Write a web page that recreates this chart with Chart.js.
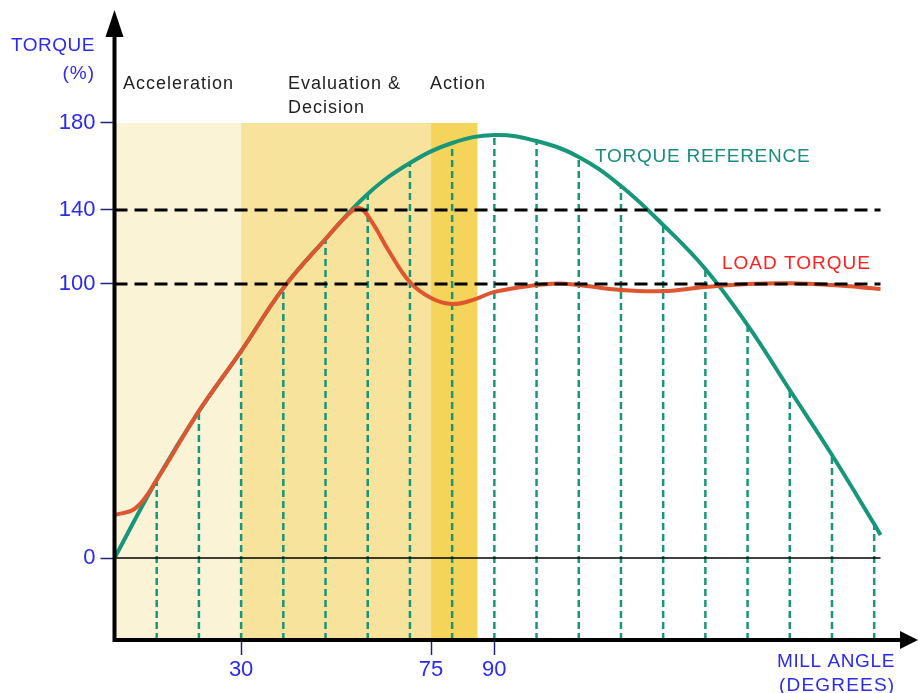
<!DOCTYPE html>
<html>
<head>
<meta charset="utf-8">
<title>Torque vs mill angle</title>
<script src="https://cdn.jsdelivr.net/npm/chart.js@4.4.1/dist/chart.umd.min.js"></script>
<style>
  html, body { margin: 0; padding: 0; background: #fff; }
  #wrap { width: 918px; height: 693px; position: relative; }
</style>
</head>
<body>
<div id="wrap"><canvas id="chart"></canvas></div>
<script>
// Mill angle (degrees) against torque (%)
const refAngles = [0, 10, 20, 30, 40, 50, 60, 70, 80, 90, 100, 110, 120, 130, 140, 150, 160, 170, 180, 181.5];
const refTorque = [0, 28.5, 53.6, 75.5, 98.5, 124.3, 147.4, 161.6, 170.8, 174.5, 171.7, 164.4, 151.0, 131.9, 108.1, 85.0, 61.3, 37.6, 12.4, 8.4];

const loadAngles = [0, 5, 10, 20, 30, 40, 50, 55, 58, 61, 65, 70, 75, 80, 85, 90, 100, 105,
                    110, 120, 130, 140, 150, 160, 170, 181.5];
const loadTorque = [15.7, 18.2, 28.5, 53.6, 75.5, 98.5, 124.3, 136.8, 140.9, 133.5, 117.8, 101, 94.9, 92.7, 94.2, 97.1, 99.6, 100.3,
                    99.6, 97.8, 97.4, 98.9, 100, 100.4, 99.6, 98.2];

const gridAngles = [10, 20, 30, 40, 50, 60, 70, 80, 90, 100, 110, 120, 130, 140, 150, 160, 170, 180];
const limitLevels = [140, 100];
const lineEnd = 181.5;

const yTicks = [0, 100, 140, 180];
const xTicks = [30, 75, 90];

const phaseNames = [['Acceleration'], ['Evaluation &', 'Decision'], ['Action']];
const phaseStart = [0, 30, 75];
const phaseEnd = [30, 75, 86];

// colours
const refColor = '#17967a';
const loadColor = '#de5530';
const phaseColors = ['#fbf3d5', '#f7e39b', '#f5d45b'];
const blue = '#2b2bee';

// The drawing's torque axis is not evenly spaced, so the y scale maps
// value ranges piecewise onto fractions of the axis height.
const yMin = -29.9, yMax = 225.1;
const yKnotValues = [yMin, 0, 100, 140, 180, yMax];
const yKnotFractions = [0, 0.1333, 0.5789, 0.6992, 0.8407, 1];

class PiecewiseScale extends Chart.LinearScale {
    static id = 'piecewise';

    toDecimal(v) {
        let i = 0;
        while (i < yKnotValues.length - 2 && v > yKnotValues[i + 1]) i++;
        const t = (v - yKnotValues[i]) / (yKnotValues[i + 1] - yKnotValues[i]);
        return yKnotFractions[i] + t * (yKnotFractions[i + 1] - yKnotFractions[i]);
    }

    getPixelForValue(value) {
        if (value === null || value === undefined || isNaN(value)) return NaN;
        return this.getPixelForDecimal(this.toDecimal(value));
    }

    getValueForPixel(pixel) {
        const d = this.getDecimalForPixel(pixel);
        let i = 0;
        while (i < yKnotFractions.length - 2 && d > yKnotFractions[i + 1]) i++;
        const t = (d - yKnotFractions[i]) / (yKnotFractions[i + 1] - yKnotFractions[i]);
        return yKnotValues[i] + t * (yKnotValues[i + 1] - yKnotValues[i]);
    }
}
Chart.register(PiecewiseScale);

// dashed drops from the x axis up to the torque reference curve
const dropPoints = [];
gridAngles.forEach(a => {
    dropPoints.push({ x: a, y: yMin });
    dropPoints.push({ x: a, y: refTorque[refAngles.indexOf(a)] });
    dropPoints.push({ x: a, y: null });
});

const datasets = [
    {
        label: 'limits',
        data: limitLevels.flatMap(v => [{ x: 0, y: v }, { x: lineEnd, y: v }, { x: lineEnd, y: null }]),
        borderColor: '#000', borderWidth: 3, borderDash: [13, 7], tension: 0, order: 0
    },
    {
        label: 'Load torque',
        data: loadAngles.map((a, i) => ({ x: a, y: loadTorque[i] })),
        borderColor: loadColor, borderWidth: 4, tension: 0.4, order: 1
    },
    {
        label: 'Torque reference',
        data: refAngles.map((a, i) => ({ x: a, y: refTorque[i] })),
        borderColor: refColor, borderWidth: 4, tension: 0.4, order: 2
    },
    {
        label: 'zero',
        data: [{ x: 0, y: 0 }, { x: lineEnd, y: 0 }],
        borderColor: '#000', borderWidth: 1.5, tension: 0, order: 3
    },
    {
        label: 'drops',
        data: dropPoints,
        borderColor: refColor, borderWidth: 2.5, borderDash: [7, 4], tension: 0, order: 4
    }
];

function drawText(ctx, text, x, y, font, color, align, spacing) {
    ctx.font = font;
    ctx.fillStyle = color;
    ctx.textAlign = align;
    ctx.textBaseline = 'alphabetic';
    ctx.letterSpacing = spacing + 'px';
    ctx.fillText(text, x, y);
    ctx.letterSpacing = '0px';
}

const decorPlugin = {
    id: 'decor',
    beforeDatasetsDraw(chart) {
        const { ctx, chartArea, scales: { x, y } } = chart;
        const top = y.getPixelForValue(Math.max(...yTicks));
        ctx.save();
        phaseStart.forEach((s, i) => {
            const x0 = x.getPixelForValue(s), x1 = x.getPixelForValue(phaseEnd[i]);
            ctx.fillStyle = phaseColors[i];
            ctx.fillRect(x0, top, x1 - x0, chartArea.bottom - top);
        });
        ctx.restore();
    },
    afterDraw(chart) {
        const { ctx, chartArea } = chart;
        const x0 = chartArea.left, y0 = chartArea.bottom;
        ctx.save();

        // axes with arrow heads
        ctx.strokeStyle = '#000';
        ctx.fillStyle = '#000';
        ctx.lineWidth = 4;
        ctx.beginPath();
        ctx.moveTo(x0, y0 + 2);
        ctx.lineTo(x0, 32);
        ctx.moveTo(x0 - 2, y0);
        ctx.lineTo(chart.width - 16, y0);
        ctx.stroke();
        ctx.beginPath();
        ctx.moveTo(x0, 10);
        ctx.lineTo(x0 - 9, 37);
        ctx.lineTo(x0 + 9, 37);
        ctx.closePath();
        ctx.fill();
        ctx.beginPath();
        ctx.moveTo(chart.width, y0);
        ctx.lineTo(chart.width - 18, y0 - 9);
        ctx.lineTo(chart.width - 18, y0 + 9);
        ctx.closePath();
        ctx.fill();

        // axis titles
        const axisFont = '19px "Liberation Sans", Arial, sans-serif';
        drawText(ctx, 'TORQUE', 95, 51, axisFont, blue, 'right', 0.5);
        drawText(ctx, '(%)', 95, 79, axisFont, blue, 'right', 1);
        drawText(ctx, 'MILL ANGLE', 777, 667, axisFont, blue, 'left', 0.6);
        drawText(ctx, '(DEGREES)', 779, 691, axisFont, blue, 'left', 1.2);

        // phase labels
        const phaseFont = '18px "Liberation Sans", Arial, sans-serif';
        const phaseX = [123, 288, 430];
        phaseNames.forEach((lines, i) => {
            lines.forEach((t, j) => drawText(ctx, t, phaseX[i], 89 + j * 24, phaseFont, '#222', 'left', 1));
        });

        // series labels
        drawText(ctx, 'TORQUE REFERENCE', 595, 162, axisFont, '#1a8c80', 'left', 0.75);
        drawText(ctx, 'LOAD TORQUE', 722, 269, axisFont, '#ff2020', 'left', 1);

        ctx.restore();
    }
};

new Chart(document.getElementById('chart'), {
    type: 'line',
    data: { datasets: datasets },
    options: {
        responsive: true,
        maintainAspectRatio: false,
        animation: false,
        devicePixelRatio: 1,
        layout: { padding: { left: 0, right: 13, top: 25, bottom: 0 } },
        elements: { point: { radius: 0, hoverRadius: 0 } },
        plugins: { legend: { display: false }, tooltip: { enabled: false } },
        events: [],
        scales: {
            x: {
                type: 'linear',
                min: 0,
                max: 187.3,
                bounds: 'data',
                afterBuildTicks: scale => { scale.ticks = xTicks.map(v => ({ value: v })); },
                afterFit: scale => { scale.height = 53; },
                grid: { drawOnChartArea: false, tickLength: 15, tickColor: '#22227a', tickWidth: 1.5 },
                border: { display: false },
                ticks: { color: blue, padding: 2, font: { family: '"Liberation Sans", Arial, sans-serif', size: 22 } }
            },
            y: {
                type: 'piecewise',
                min: yMin,
                max: yMax,
                bounds: 'data',
                afterBuildTicks: scale => { scale.ticks = yTicks.map(v => ({ value: v })); },
                afterFit: scale => { scale.width = 114.5; },
                grid: { drawOnChartArea: false, tickLength: 14, tickColor: '#22227a', tickWidth: 1.5 },
                border: { display: false },
                ticks: { color: blue, padding: 5, font: { family: '"Liberation Sans", Arial, sans-serif', size: 22 } }
            }
        }
    },
    plugins: [decorPlugin]
});
</script>
</body>
</html>
